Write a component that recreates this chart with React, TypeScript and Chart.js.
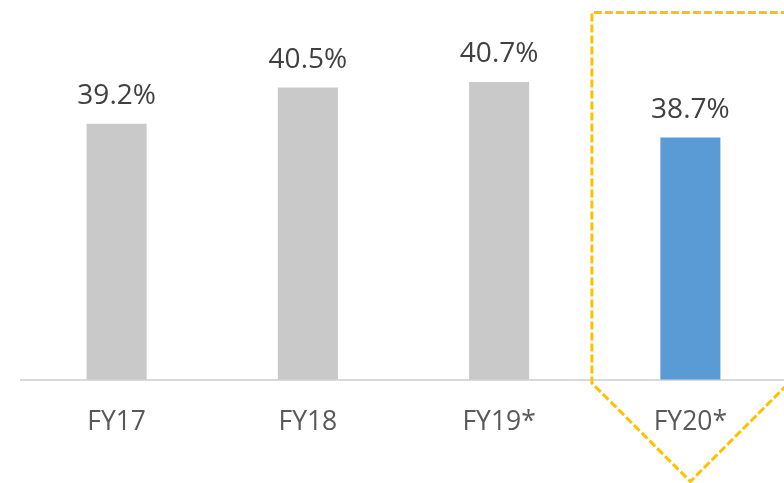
import React, { useEffect, useRef } from "react";
import { Chart, registerables } from "chart.js";

Chart.register(...registerables);

const categories = ["FY17", "FY18", "FY19*", "FY20*"];
const marginValues = [39.2, 40.5, 40.7, 38.7];
const valueLabels = ["39.2%", "40.5%", "40.7%", "38.7%"];
const barColors = ["#c9c9c9", "#c9c9c9", "#c9c9c9", "#5b9bd5"];
const highlightIndex = 3;

const FONT = "'Open Sans', 'Liberation Sans', sans-serif";

const valueLabelPlugin = {
  id: "valueLabels",
  afterDatasetsDraw(chart: any) {
    const ctx = chart.ctx;
    const meta = chart.getDatasetMeta(0);
    ctx.save();
    ctx.font = `28px ${FONT}`;
    ctx.fillStyle = "#404040";
    ctx.textAlign = "center";
    ctx.textBaseline = "alphabetic";
    meta.data.forEach((bar: any, i: number) => {
      ctx.fillText(valueLabels[i], bar.x, bar.y - 19.5);
    });
    ctx.restore();
  },
};

const calloutPlugin = {
  id: "callout",
  afterDraw(chart: any) {
    const ctx = chart.ctx;
    const xs = chart.scales.x;
    const area = chart.chartArea;
    const cx = xs.getPixelForValue(highlightIndex);
    const catW = (area.right - area.left) / categories.length;
    const half = catW * 0.515;
    const top = area.top - 5.5;
    const sideBottom = area.bottom + 3.5;
    ctx.save();
    ctx.strokeStyle = "#ffc000";
    ctx.lineWidth = 3;
    ctx.setLineDash([8, 3]);
    ctx.beginPath();
    ctx.moveTo(cx + half, top);
    ctx.lineTo(cx - half, top);
    ctx.lineTo(cx - half, sideBottom);
    ctx.lineTo(cx, sideBottom + half);
    ctx.lineTo(cx + half, sideBottom);
    ctx.lineTo(cx + half, top);
    ctx.stroke();
    ctx.restore();
  },
};

export default function App() {
  const canvasRef = useRef<HTMLCanvasElement | null>(null);

  useEffect(() => {
    if (!canvasRef.current) return;
    const chart = new Chart(canvasRef.current, {
      type: "bar",
      data: {
        labels: categories,
        datasets: [
          {
            data: marginValues,
            backgroundColor: barColors,
            borderWidth: 0,
            categoryPercentage: 1,
            barPercentage: 0.314,
          },
        ],
      },
      options: {
        animation: false,
        responsive: false,
        maintainAspectRatio: false,
        devicePixelRatio: 1,
        layout: { padding: { left: 21, right: 0, top: 18, bottom: 0 } },
        plugins: {
          legend: { display: false },
          tooltip: { enabled: false },
          title: { display: false },
        },
        scales: {
          x: {
            grid: { display: false, drawTicks: false },
            border: { display: true, color: "#d9d9d9", width: 2 },
            ticks: {
              color: "#595959",
              font: { family: FONT, size: 26.5 },
              padding: 27,
              maxRotation: 0,
            },
            afterFit(scale: any) {
              scale.height = 103.5;
            },
          },
          y: {
            display: false,
            min: 30,
            max: 43,
          },
        },
      },
      plugins: [valueLabelPlugin, calloutPlugin],
    });
    return () => chart.destroy();
  }, []);

  return (
    <div
      style={{
        position: "absolute",
        left: 0,
        top: 0,
        width: 784,
        height: 483,
        overflow: "hidden",
        background: "#ffffff",
      }}
    >
      <canvas ref={canvasRef} width={786} height={483} style={{ display: "block" }} />
    </div>
  );
}
